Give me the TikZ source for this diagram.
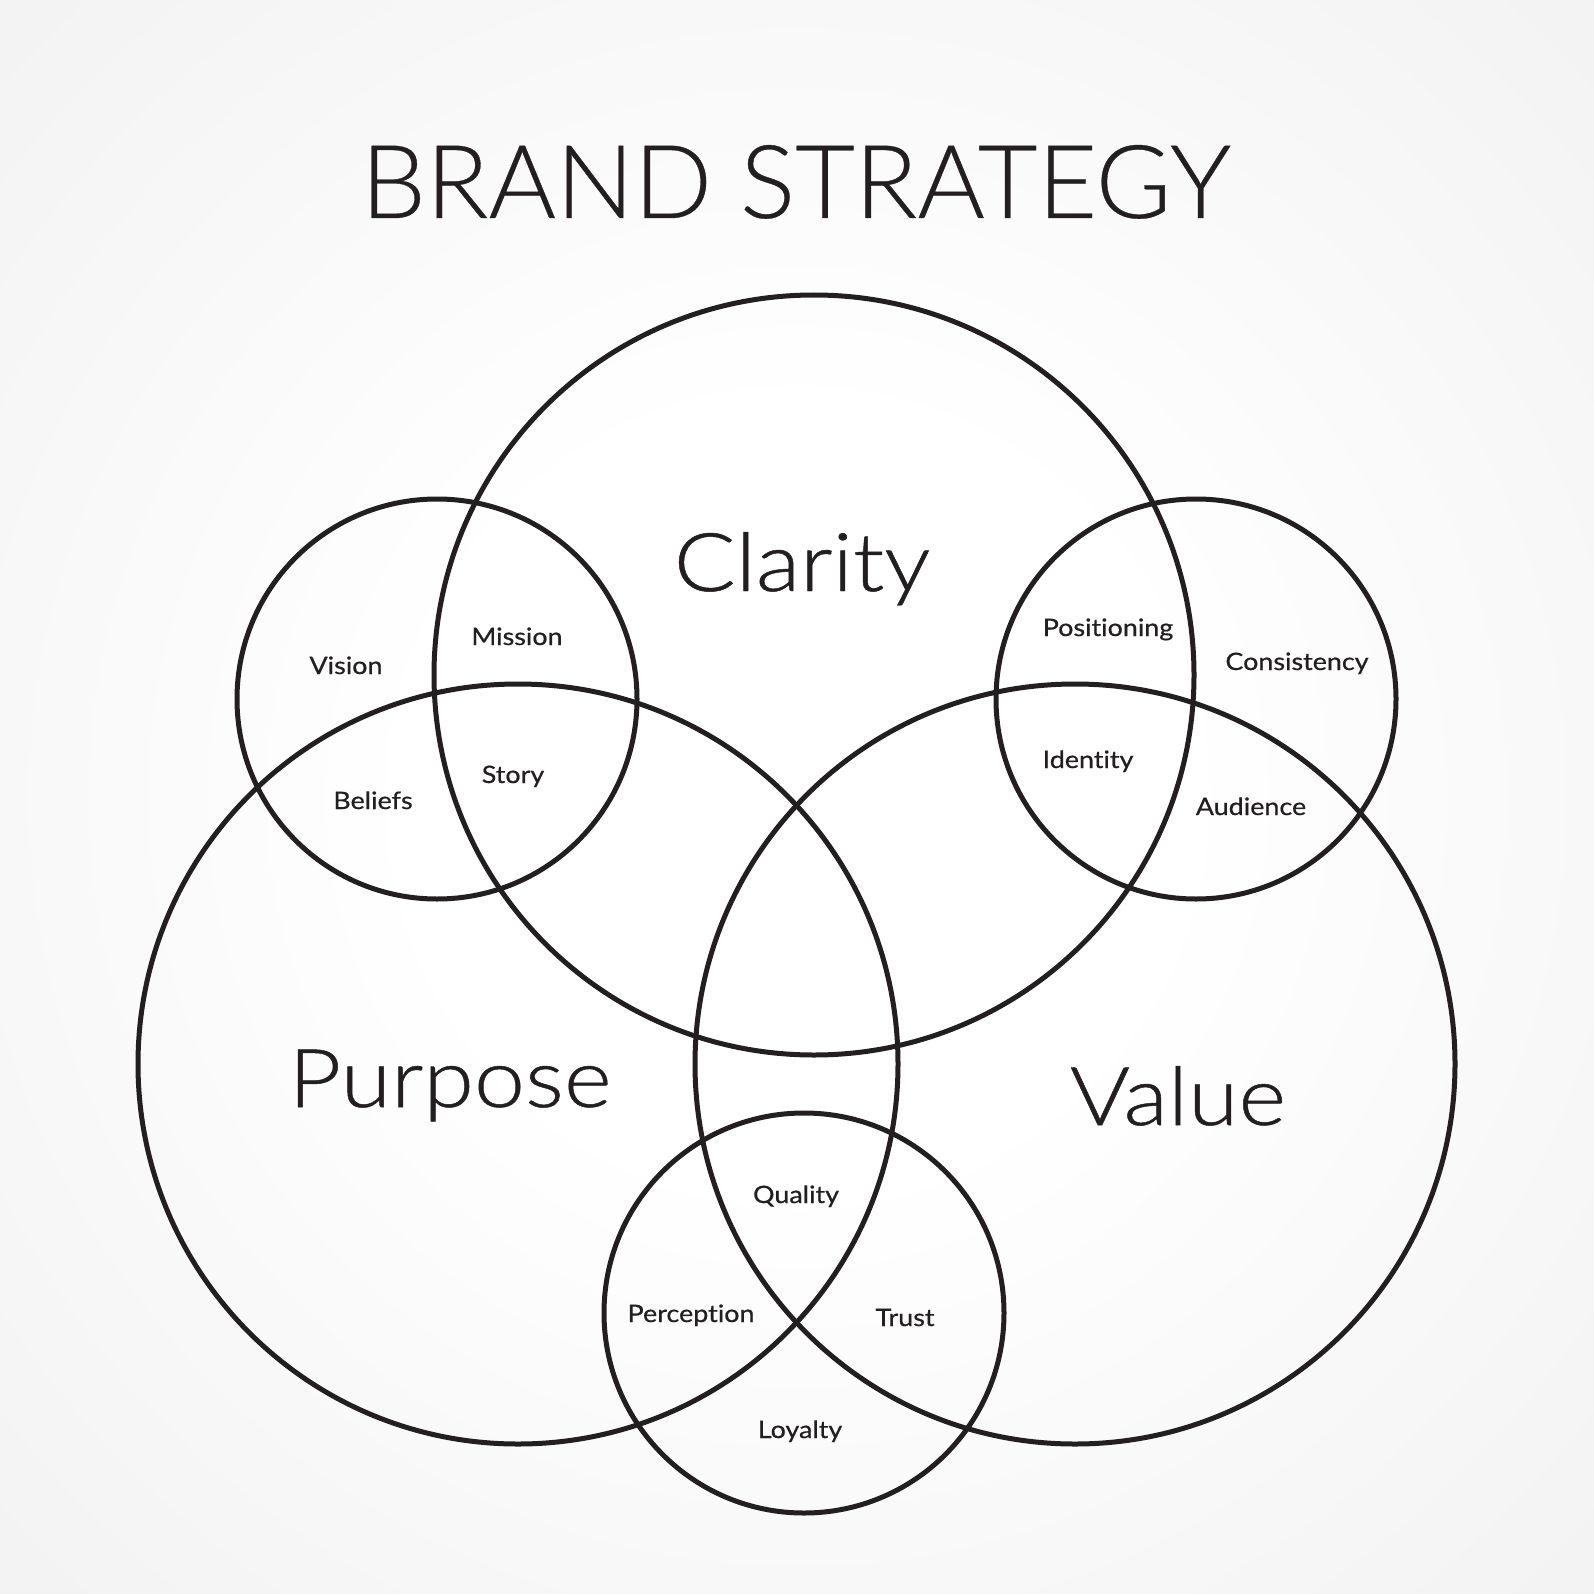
\documentclass[tikz,border=0pt]{standalone}
\usepackage{fontspec}
\setmainfont{Lato}[Ligatures=NoCommon]
\newfontfamily\titlefont{Lato Light}[FakeStretch=1.01,FakeBold=0.3,Ligatures=NoCommon]
\newfontfamily\bigfont{Lato Light}[FakeStretch=1.13,FakeBold=0.6,Ligatures=NoCommon]
\newfontfamily\smallfont{Lato}[FakeStretch=1.12,FakeBold=0.6,Ligatures=NoCommon]
\definecolor{ink}{HTML}{231F20}
\pgfdeclareradialshading{bgshade}{\pgfpoint{0bp}{0bp}}{color(0bp)=(white); color(12bp)=(white); color(50bp)=(black!8)}
\begin{document}
\begin{tikzpicture}[x=1pt,y=-1pt,
  ring/.style={draw=ink, line width=5pt},
  titletext/.style={font=\titlefont\fontsize{102}{102}\selectfont, text=ink, inner sep=0pt, anchor=base},
  bigtext/.style={font=\bigfont\fontsize{81}{81}\selectfont, text=ink, inner sep=0pt, anchor=base},
  smalltext/.style={font=\smallfont\fontsize{24}{24}\selectfont, text=ink, inner sep=0pt, anchor=base}]
\shade[shading=bgshade] (0,0) rectangle (1594,1594);
\useasboundingbox (0,0) rectangle (1594,1594);
% circles
\draw[ring] (814,675) circle [radius=380];
\draw[ring] (518,1064) circle [radius=380];
\draw[ring] (1075,1064) circle [radius=380];
\draw[ring] (437,699) circle [radius=200];
\draw[ring] (1196,699) circle [radius=200];
\draw[ring] (804,1313) circle [radius=200];
% texts
\node[titletext] (title) at (796,218) {BRAND STRATEGY};
\node[bigtext] (clarity) at (802,591) {Clarity};
\node[bigtext] (purpose) at (450,1107) {Purpose};
\node[bigtext] (value) at (1178,1125) {Value};
\node[smalltext] (vision) at (346,674) {Vision};
\node[smalltext] (mission) at (517,645) {Mission};
\node[smalltext] (beliefs) at (373,809) {Beliefs};
\node[smalltext] (story) at (513,783) {Story};
\node[smalltext] (positioning) at (1108,636) {Positioning};
\node[smalltext] (consistency) at (1297,670) {Consistency};
\node[smalltext] (identity) at (1088,768) {Identity};
\node[smalltext] (audience) at (1251,815) {Audience};
\node[smalltext] (quality) at (796,1203) {Quality};
\node[smalltext] (perception) at (691,1322) {Perception};
\node[smalltext] (trust) at (905,1326) {Trust};
\node[smalltext] (loyalty) at (800,1438) {Loyalty};
\end{tikzpicture}
\end{document}
